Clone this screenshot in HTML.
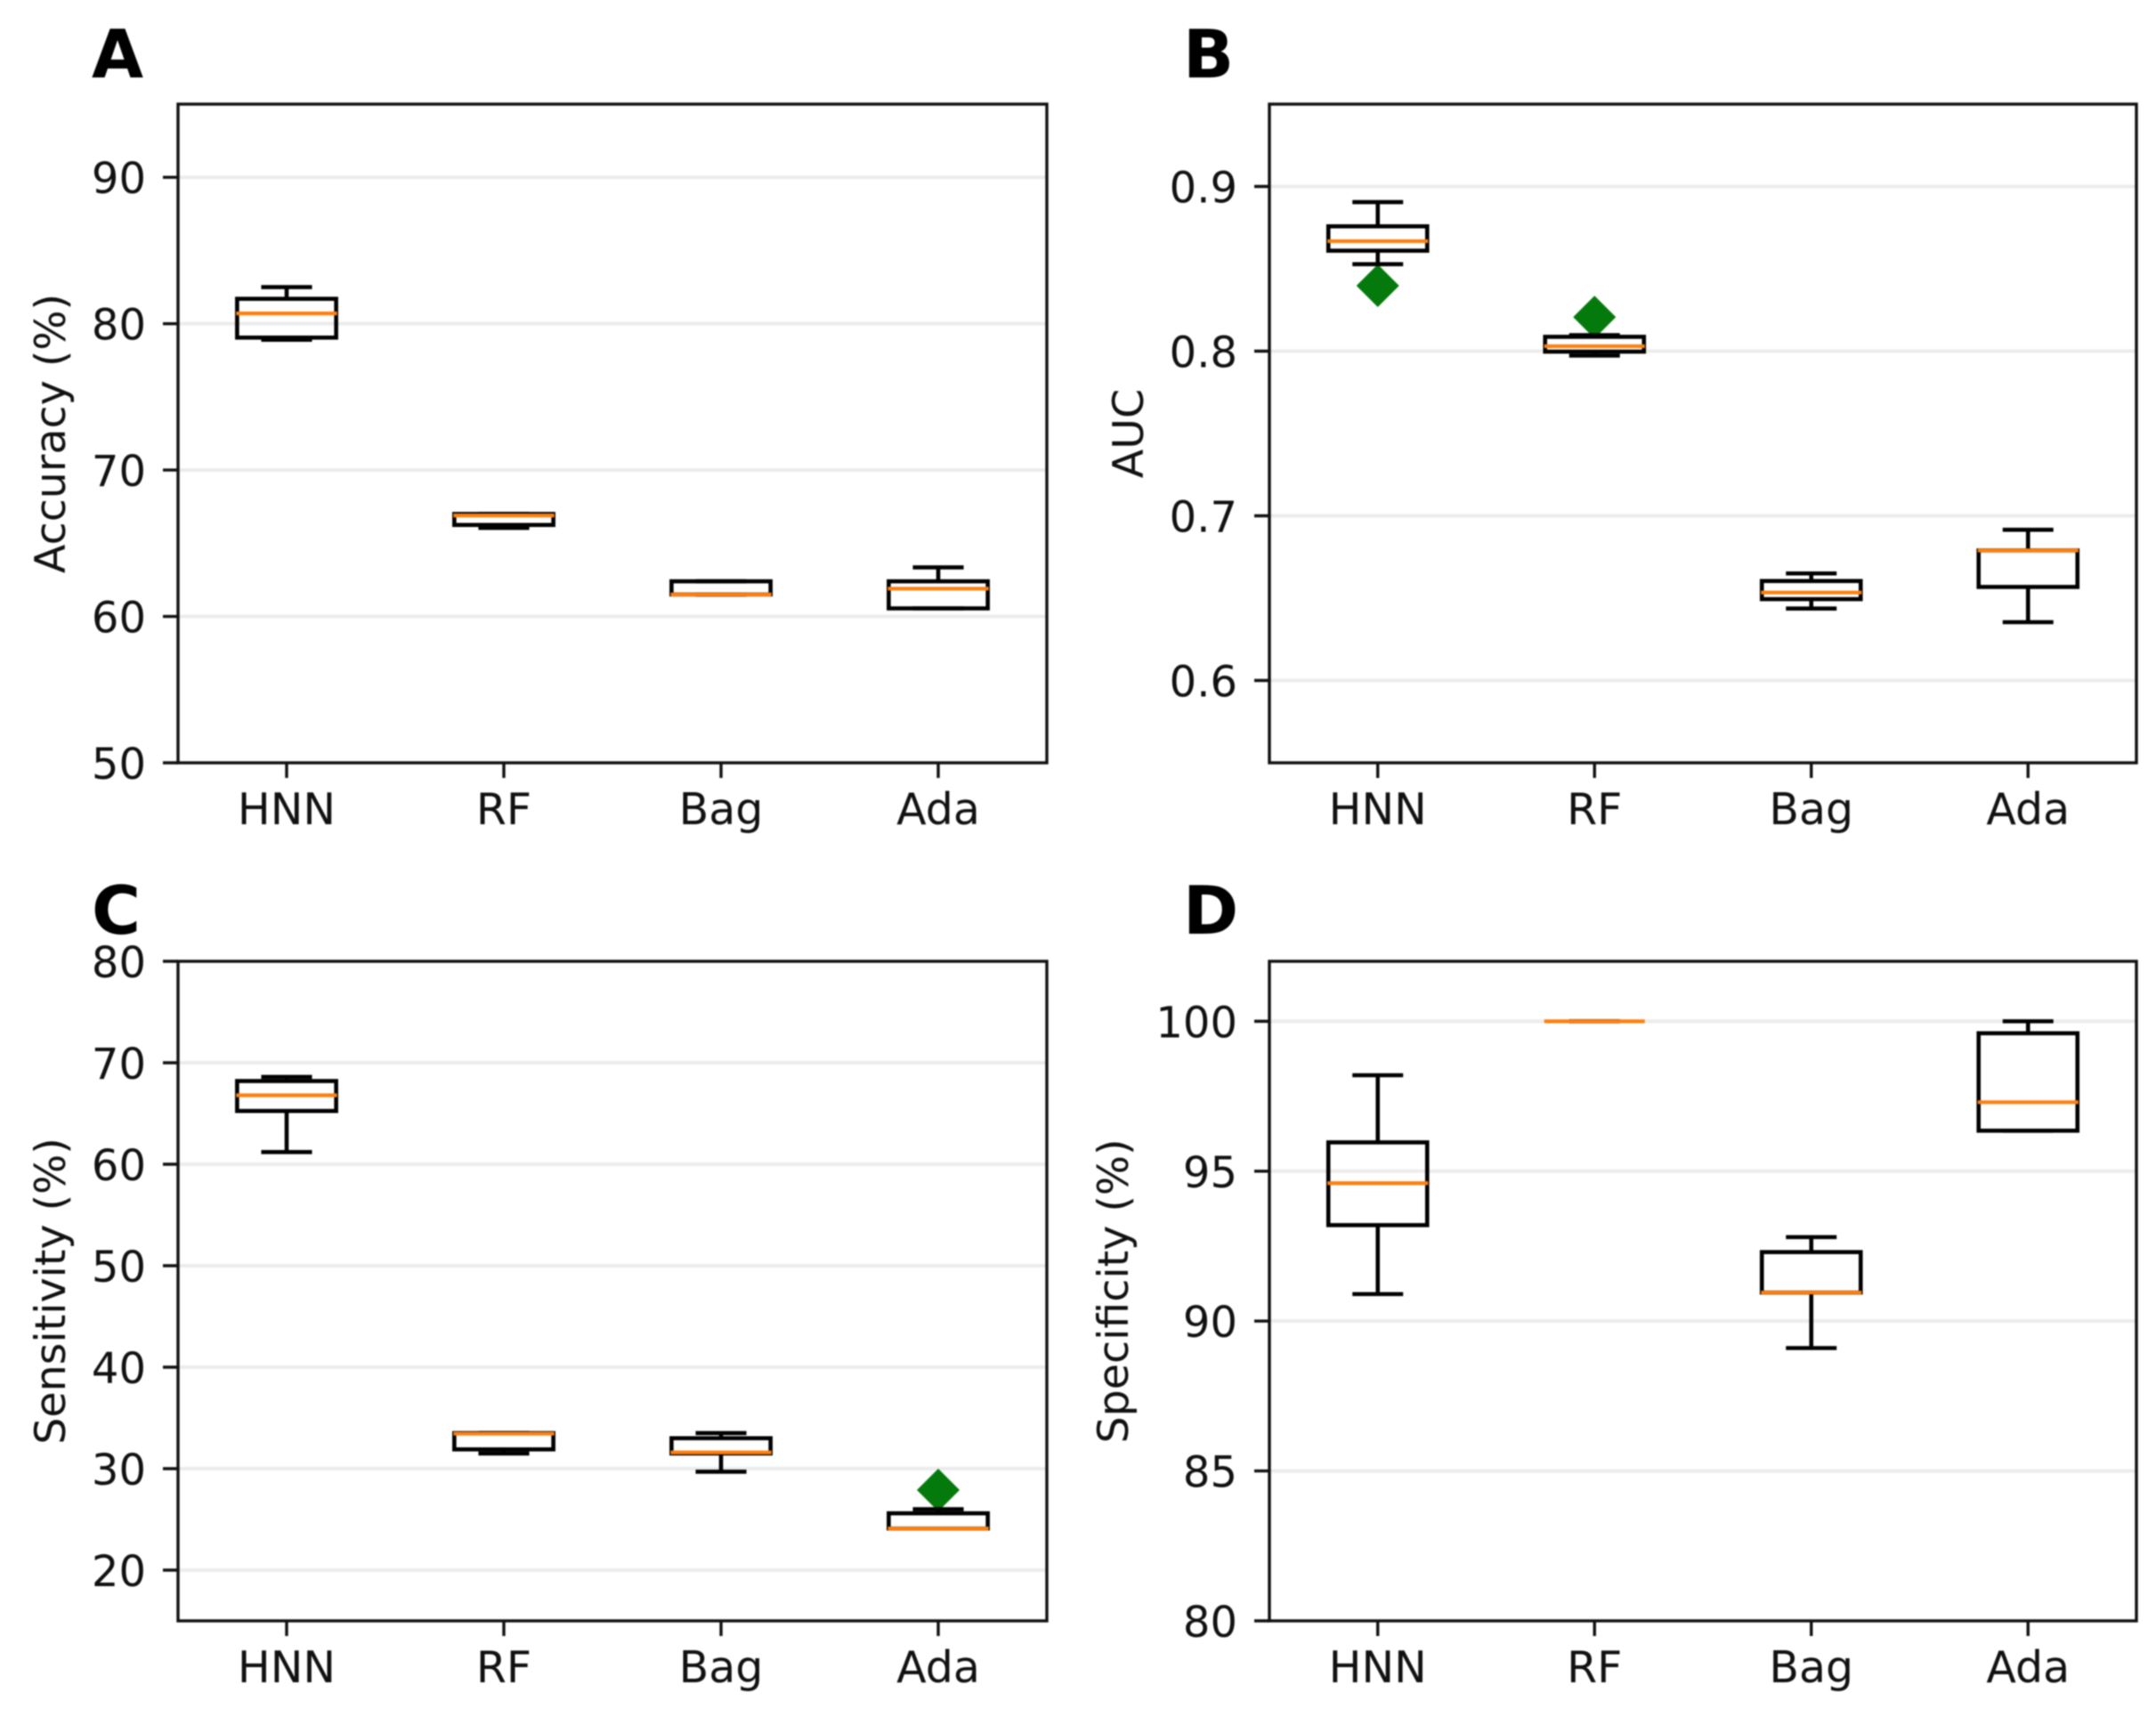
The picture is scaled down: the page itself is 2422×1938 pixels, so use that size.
<!DOCTYPE html>
<html lang="en">
<head>
<meta charset="utf-8">
<title>Model comparison box plots</title>
<style>
html,body{margin:0;padding:0;background:#fff;width:2422px;height:1938px;overflow:hidden}
svg{display:block;filter:blur(.9px)}
text{font-family:"DejaVu Sans","Liberation Sans",sans-serif;fill:#111}
</style>
</head>
<body>
<svg id="figure" xmlns="http://www.w3.org/2000/svg" width="2422" height="1938" viewBox="0 0 2422 1938">
<rect width="2422" height="1938" fill="#fff"/>
<text x="103" y="87" font-size="75" font-weight="700" style="fill:#000">A</text>
<text x="1329" y="87" font-size="75" font-weight="700" style="fill:#000">B</text>
<text x="103" y="1049" font-size="75" font-weight="700" style="fill:#000">C</text>
<text x="1329" y="1049" font-size="75" font-weight="700" style="fill:#000">D</text>
</svg>
<script>
// Shared categories
var categories = ["HNN", "RF", "Bag", "Ada"];

// Panel A: accuracy
var accuracyTicks = [50, 60, 70, 80, 90];
var accuracyWhiskerHigh = [82.5, 67.0, 62.4, 63.35];
var accuracyQ3 = [81.7, 67.0, 62.4, 62.4];
var accuracyMedian = [80.7, 66.9, 61.5, 61.9];
var accuracyQ1 = [79.05, 66.25, 61.5, 60.55];
var accuracyWhiskerLow = [78.9, 66.05, 61.5, 60.55];
var accuracyFliers = [null, null, null, null];

// Panel B: AUC
var aucTicks = [0.6, 0.7, 0.8, 0.9];
var aucWhiskerHigh = [0.8905, 0.8097, 0.665, 0.6915];
var aucQ3 = [0.8758, 0.8087, 0.6604, 0.679];
var aucMedian = [0.8668, 0.803, 0.6534, 0.679];
var aucQ1 = [0.861, 0.7997, 0.6494, 0.6568];
var aucWhiskerLow = [0.8528, 0.7973, 0.6437, 0.6354];
var aucFliers = [0.8397, 0.8207, null, null];

// Panel C: sensitivity
var sensitivityTicks = [20, 30, 40, 50, 60, 70, 80];
var sensitivityWhiskerHigh = [68.6, 33.5, 33.5, 26.0];
var sensitivityQ3 = [68.2, 33.5, 33.0, 25.6];
var sensitivityMedian = [66.8, 33.45, 31.6, 24.1];
var sensitivityQ1 = [65.25, 31.9, 31.5, 24.1];
var sensitivityWhiskerLow = [61.2, 31.5, 29.7, 24.1];
var sensitivityFliers = [null, null, null, 27.9];

// Panel D: specificity
var specificityTicks = [80, 85, 90, 95, 100];
var specificityWhiskerHigh = [98.2, 100, 92.8, 100];
var specificityQ3 = [95.96, 100, 92.3, 99.6];
var specificityMedian = [94.6, 100, 90.95, 97.3];
var specificityQ1 = [93.2, 100, 90.95, 96.35];
var specificityWhiskerLow = [90.9, 100, 89.1, 96.35];
var specificityFliers = [null, null, null, null];

var svg = document.getElementById('figure');
var NS = 'http://www.w3.org/2000/svg';

function mk(parent, tag, props, txt) {
  var el = document.createElementNS(NS, tag);
  for (var k in props) el.setAttribute(k, props[k]);
  if (txt !== undefined) el.textContent = txt;
  parent.appendChild(el);
  return el;
}

function seg(parent, x1, y1, x2, y2, color, w) {
  return mk(parent, 'line', {x1: x1, y1: y1, x2: x2, y2: y2, stroke: color, 'stroke-width': w});
}

function drawPanel(cfg) {
  var L = cfg.left, R = cfg.right, T = cfg.top, B = cfg.bottom;
  var yScale = function (v) { return B - (v - cfg.yMin) / (cfg.yMax - cfg.yMin) * (B - T); };
  var step = (R - L) / categories.length;
  var xScale = function (i) { return L + step * (i + 0.5); };
  var boxHalf = step * 0.228, capHalf = step * 0.117;
  var INK = '#000';
  var LW = 4.6;

  var g = mk(svg, 'g', {});
  
  

  // gridlines and y ticks
  cfg.ticks.forEach(function (t) {
    var y = yScale(t);
    if (y > T + 2 && y < B - 2) {
      var gl = seg(g, L, y, R, y, '#ececec', 4);
      
      
    }
    var tk = seg(g, L - 17, y, L, y, '#111', 3.4);
    
    
    var lb = mk(g, 'text', {x: L - 36, y: y + 18, 'font-size': 48, 'text-anchor': 'end'}, cfg.format(t));
    
    
  });

  // x ticks and labels
  categories.forEach(function (c, i) {
    var x = xScale(i);
    var tk = seg(g, x, B, x, B + 17, '#111', 3.4);
    
    
    var lb = mk(g, 'text', {x: x, y: B + 69, 'font-size': 49, 'text-anchor': 'middle'}, c);
    
    
  });

  // y axis title
  var cy = (T + B) / 2;
  var title = mk(g, 'text', {x: 0, y: 0, 'font-size': 47.5, 'text-anchor': 'middle',
    transform: 'translate(' + (cfg.titleX + 17) + ',' + cy + ') rotate(-90)'}, cfg.title);
  
  

  // boxes
  categories.forEach(function (c, i) {
    var x = xScale(i);
    var bx = mk(g, 'g', {});
    
    

    if (cfg.fliers[i] !== null) {
      var fy = yScale(cfg.fliers[i]);
      var d = mk(bx, 'polygon', {points: (x - 24) + ',' + fy + ' ' + x + ',' + (fy - 24) + ' ' + (x + 24) + ',' + fy + ' ' + x + ',' + (fy + 24), fill: '#047a0c'});
      
      
    }

    var yHi = yScale(cfg.whiskerHigh[i]), yQ3 = yScale(cfg.q3[i]), yMed = yScale(cfg.median[i]),
        yQ1 = yScale(cfg.q1[i]), yLo = yScale(cfg.whiskerLow[i]);

    var w1 = seg(bx, x, yQ3, x, yHi, INK, LW);
    
    
    var w2 = seg(bx, x, yQ1, x, yLo, INK, LW);
    
    
    var c1 = seg(bx, x - capHalf, yHi, x + capHalf, yHi, INK, LW);
    
    
    var c2 = seg(bx, x - capHalf, yLo, x + capHalf, yLo, INK, LW);
    
    
    var r = mk(bx, 'rect', {x: x - boxHalf, y: yQ3, width: boxHalf * 2, height: Math.max(yQ1 - yQ3, 0), fill: 'none', stroke: INK, 'stroke-width': LW});
    
    
    var m = seg(bx, x - boxHalf - 1, yMed, x + boxHalf + 1, yMed, '#ff7f0e', 4.2);
    
    
  });

  // frame
  var frame = mk(g, 'rect', {x: L, y: T, width: R - L, height: B - T, fill: 'none', stroke: '#111', 'stroke-width': 3.4});
  
  
}

var intFmt = function (v) { return String(v); };
var oneFmt = function (v) { return v.toFixed(1); };

drawPanel({name: 'accuracy', title: 'Accuracy (%)', left: 200, right: 1176, top: 117, bottom: 857, yMin: 50, yMax: 95, titleX: 56, format: intFmt,
  ticks: accuracyTicks, whiskerHigh: accuracyWhiskerHigh, q3: accuracyQ3, median: accuracyMedian, q1: accuracyQ1, whiskerLow: accuracyWhiskerLow, fliers: accuracyFliers});
drawPanel({name: 'auc', title: 'AUC', left: 1426, right: 2400, top: 117, bottom: 857, yMin: 0.55, yMax: 0.95, titleX: 1267, format: oneFmt,
  ticks: aucTicks, whiskerHigh: aucWhiskerHigh, q3: aucQ3, median: aucMedian, q1: aucQ1, whiskerLow: aucWhiskerLow, fliers: aucFliers});
drawPanel({name: 'sensitivity', title: 'Sensitivity (%)', left: 200, right: 1176, top: 1080, bottom: 1821, yMin: 15, yMax: 80, titleX: 56, format: intFmt,
  ticks: sensitivityTicks, whiskerHigh: sensitivityWhiskerHigh, q3: sensitivityQ3, median: sensitivityMedian, q1: sensitivityQ1, whiskerLow: sensitivityWhiskerLow, fliers: sensitivityFliers});
drawPanel({name: 'specificity', title: 'Specificity (%)', left: 1426, right: 2400, top: 1080, bottom: 1821, yMin: 80, yMax: 102, titleX: 1250, format: intFmt,
  ticks: specificityTicks, whiskerHigh: specificityWhiskerHigh, q3: specificityQ3, median: specificityMedian, q1: specificityQ1, whiskerLow: specificityWhiskerLow, fliers: specificityFliers});
</script>
</body>
</html>
